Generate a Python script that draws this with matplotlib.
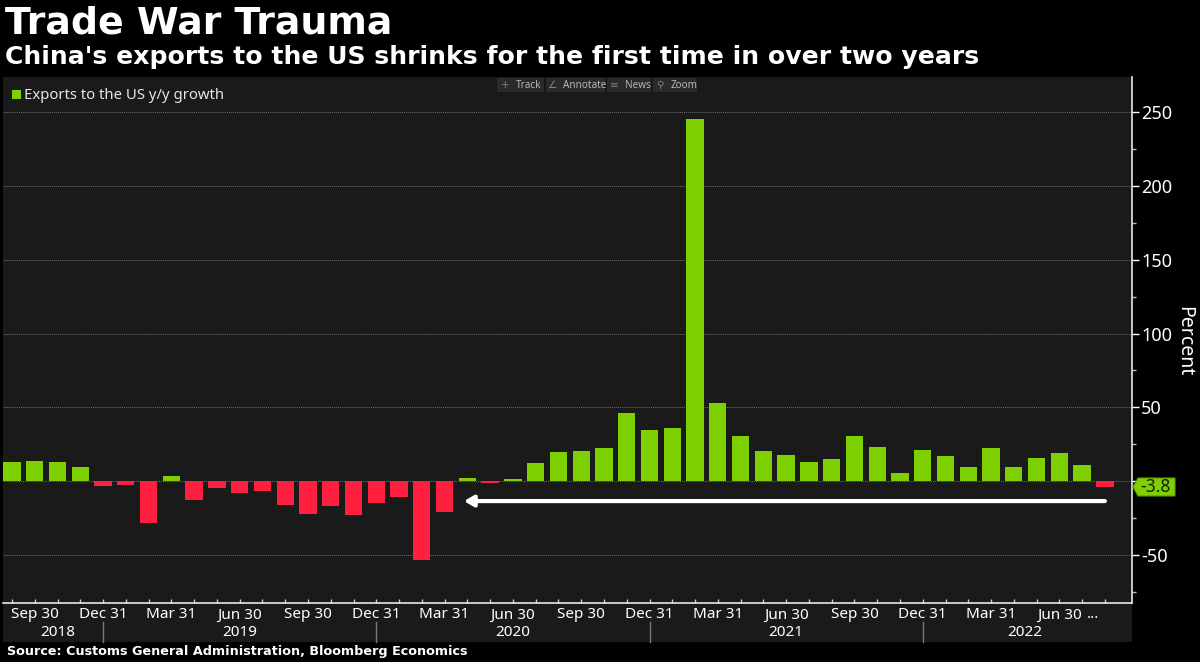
import numpy as np
import matplotlib
matplotlib.use("Agg")
import matplotlib.pyplot as plt
from matplotlib.patches import Rectangle, Polygon

W, H = 1200, 662

# y/y growth, Aug 2018 .. Aug 2022
growth = [13.1, 13.6, 13.1, 9.7, -3.4, -2.9, -28.7, 3.6, -13.1, -4.7,
          -8.1, -6.8, -16.0, -22.1, -16.7, -23.3, -14.7, -11.1, -53.8, -21.2,
          2.0, -1.6, 1.1, 12.2, 19.7, 20.1, 22.4, 46.0, 34.5, 36.0,
          245.6, 52.9, 30.5, 20.1, 17.6, 13.1, 15.1, 30.3, 22.8, 5.2,
          21.2, 16.7, 9.7, 22.1, 9.3, 15.8, 19.2, 10.6, -3.8]
tick_pos = [1, 4, 7, 10, 13, 16, 19, 22, 25, 28, 31, 34, 37, 40, 43, 46]
tick_names = ["Sep 30", "Dec 31", "Mar 31", "Jun 30"] * 4
years = ["2018", "2019", "2020", "2021", "2022"]
year_pos = [2.0, 10.0, 22.0, 34.0, 44.5]
year_breaks = [4, 16, 28, 40]
y_major = [-50, 0, 50, 100, 150, 200, 250]
y_minor = [-75, -25, 25, 75, 125, 175, 225]
last_value = growth[-1]

GREEN = "#7fd000"
RED = "#ff2040"
PANEL = "#1a1a1a"
FONT = ["Noto Sans", "DejaVu Sans"]

plt.rcParams["font.family"] = FONT
fig = plt.figure(figsize=(W / 100, H / 100), dpi=100, facecolor="black")


def fx(px):
    return px / W


def fy(px):
    return 1 - px / H


# footer band behind the date labels
fig.add_artist(Rectangle((fx(3), fy(642)), 1129 / W, 39 / H, transform=fig.transFigure,
                         facecolor=PANEL, edgecolor="none", zorder=-1))

ax = fig.add_axes([fx(3), fy(603), 1129 / W, 526 / H], facecolor=PANEL)
x = np.arange(len(growth))
colors = [GREEN if v >= 0 else RED for v in growth]
ax.bar(x, growth, width=0.76, color=colors, zorder=3)

ax.set_xlim(-0.395, 49.19)
ax.set_ylim(-82.7, 273.9)

ax.yaxis.tick_right()
ax.yaxis.set_label_position("right")
ax.set_yticks(y_major)
ax.set_yticklabels([str(v) if v != 0 else "" for v in y_major], color="white", fontsize=13)
ax.set_yticks(y_minor, minor=True)
ax.tick_params(axis="y", which="major", direction="out", length=5, width=1, color="white", pad=1.5)
ax.tick_params(axis="y", which="minor", direction="out", length=3, width=1, color="#bbbbbb")
ax.set_ylabel("Percent", color="white", fontsize=14, rotation=270, labelpad=16, y=0.497)
ax.grid(axis="y", which="major", linestyle=(0, (1, 1)), linewidth=0.7, color="#6e6e6e", zorder=1)

ax.set_xticks(x)
ax.set_xticklabels([""] * len(x))
ax.tick_params(axis="x", which="major", direction="in", length=3, width=1, color="#cccccc")
xtrans = ax.get_xaxis_transform()
for p, name in zip(tick_pos, tick_names):
    ax.annotate(name, (p, 0), xycoords=xtrans, xytext=(0, -12), textcoords="offset pixels",
                ha="center", va="center", color="white", fontsize=11)
ax.annotate("...", (47.5, 0), xycoords=xtrans, xytext=(0, -12), textcoords="offset pixels",
            ha="center", va="center", color="white", fontsize=11)
for p, name in zip(year_pos, years):
    ax.annotate(name, (p, 0), xycoords=xtrans, xytext=(0, -30), textcoords="offset pixels",
                ha="center", va="center", color="white", fontsize=11)
for p in year_breaks:
    ax.plot([p, p], [-19 / 526, -39 / 526], transform=xtrans, color="#777777", lw=1, clip_on=False)

for side in ["top", "left"]:
    ax.spines[side].set_visible(False)
for side in ["bottom", "right"]:
    ax.spines[side].set_color("#e8e8e8")
    ax.spines[side].set_linewidth(1.2)

# arrow from the latest month back to the last negative run
ax.annotate("", xy=(19.85, -13.6), xytext=(48, -13.6), zorder=5,
            arrowprops=dict(arrowstyle="-|>,head_length=0.55,head_width=0.32", color="white",
                            lw=3, shrinkA=0, shrinkB=0))

# last value tag on the axis
tag_px = [(1133, 487), (1138, 478), (1175, 478), (1175, 496), (1138, 496)]
fig.add_artist(Polygon([(fx(a), fy(b)) for a, b in tag_px], closed=True, transform=fig.transFigure,
                       facecolor=GREEN, edgecolor="#5a9a00", lw=0.8, zorder=6))
fig.text(fx(1155), fy(487.5), f"{last_value:.1f}", color="#14200a", fontsize=12.5,
         ha="center", va="center", zorder=7)

# legend
fig.add_artist(Rectangle((fx(12), fy(99)), 9 / W, 9 / H, transform=fig.transFigure,
                         facecolor=GREEN, edgecolor="none"))
fig.text(fx(24), fy(95.5), "Exports to the US y/y growth", color="#e6e6e6", fontsize=10.7,
         ha="left", va="center")

# toolbar strip
for left, right, icon, label, tx in [(496, 544, "+", "Track", 516), (545, 605, "\u2220", "Annotate", 563),
                                     (606, 651, "\u2261", "News", 625), (652, 697, "\u26b2", "Zoom", 671)]:
    fig.add_artist(Rectangle((fx(left), fy(92)), (right - left) / W, 15 / H,
                             transform=fig.transFigure, facecolor="#2a2a2a", edgecolor="#151515",
                             lw=0.6))
    fig.text(fx(tx - 11), fy(85), icon, color="#808080", fontsize=7.5, ha="center", va="center",
             family="DejaVu Sans")
    fig.text(fx(tx), fy(85), label, color="#b5b5b5", fontsize=7.2, ha="left", va="center")

fig.text(fx(5), fy(33.5), "Trade War Trauma", color="white", fontsize=27.3, fontweight="bold",
         family="DejaVu Sans", ha="left", va="baseline")
fig.text(fx(5), fy(64), "China's exports to the US shrinks for the first time in over two years",
         color="white", fontsize=18.08, fontweight="bold", family="DejaVu Sans", ha="left", va="baseline")
fig.text(fx(7), fy(651), "Source: Customs General Administration, Bloomberg Economics",
         color="white", fontsize=9.2, fontweight="bold", family="DejaVu Sans", ha="left", va="center")

fig.savefig("out.png", dpi=100, facecolor="black")
